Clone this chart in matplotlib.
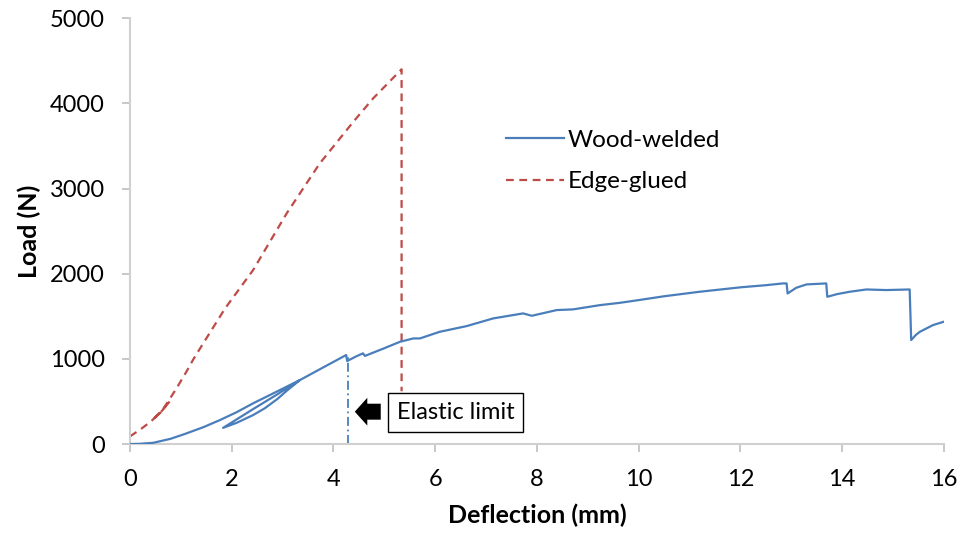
import matplotlib
matplotlib.use('Agg')
import matplotlib.pyplot as plt

plt.rcParams['font.family'] = ['Lato', 'DejaVu Sans']

# load-deflection curves
wood_x = [0, 0.2, 0.46, 0.8, 1.11, 1.45, 1.77, 2.1, 2.42, 2.9, 3.34,
          3.1, 2.9, 2.65, 2.42, 2.1, 1.83, 2.42, 2.9, 3.34,
          3.8, 4.25, 4.27, 4.45, 4.58, 4.62, 5.0, 5.31, 5.57, 5.70, 6.09, 6.62, 7.14,
          7.73, 7.90, 8.39, 8.71, 9.24, 9.63, 10.0, 10.5, 11.2, 12.0, 12.5, 12.84, 12.91,
          12.93, 13.1, 13.3, 13.69, 13.71, 13.9, 14.15, 14.48, 14.87, 15.33, 15.36,
          15.45, 15.53, 15.79, 16.0]
wood_y = [0, 3, 15, 62, 125, 200, 282, 375, 478, 620, 751,
          635, 530, 420, 340, 250, 190, 410, 585, 751,
          900, 1045, 975, 1030, 1065, 1035, 1125, 1201, 1240, 1240, 1318, 1385, 1475,
          1534, 1506, 1573, 1581, 1631, 1658, 1690, 1735, 1788, 1840, 1865, 1886, 1886,
          1768, 1835, 1874, 1886, 1729, 1760, 1788, 1815, 1808, 1815, 1221,
          1280, 1318, 1397, 1436]

glued_x = [0, 0.2, 0.4, 0.6, 0.78, 0.6, 0.45, 0.65, 0.9, 1.1, 1.25, 1.5, 1.87,
           2.42, 3.08, 3.73, 4.39, 4.78, 5.31, 5.34, 5.34]
glued_y = [90, 170, 260, 370, 500, 370, 285, 410, 640, 840, 1000, 1240, 1593,
           2042, 2708, 3294, 3783, 4058, 4382, 4400, 620]

elastic_x = 4.28
elastic_top = 1040

blue = '#4a7ebb'
red = '#be4b48'

fig = plt.figure(figsize=(9.63, 5.35), dpi=100)
ax = fig.add_axes([0.135, 0.170, 0.845, 0.796])

ax.plot(wood_x, wood_y, color=blue, lw=1.6, label='Wood-welded', zorder=3)
ax.plot(glued_x, glued_y, color=red, lw=1.6, ls=(0, (3.5, 2.5)), label='Edge-glued', zorder=2)
ax.plot([elastic_x, elastic_x], [0, elastic_top], color=blue, lw=1.3,
        ls=(0, (5, 2, 1, 2)), zorder=2)

ax.annotate('', xy=(4.42, 380), xytext=(4.93, 380),
            arrowprops=dict(arrowstyle='simple,head_length=0.9,head_width=2.0,tail_width=1.15',
                            color='black', lw=0, shrinkA=0, shrinkB=0), zorder=5)
ax.text(6.4, 372, 'Elastic limit', fontsize=17, ha='center', va='center', zorder=6,
        bbox=dict(boxstyle='square,pad=0.38', fc='white', ec='black', lw=1.0))

ax.set_xlim(0, 16)
ax.set_ylim(0, 5000)
ax.set_xticks(range(0, 17, 2))
ax.set_yticks(range(0, 5001, 1000))
ax.tick_params(labelsize=17, colors='#bfbfbf', labelcolor='black', length=6, width=1.2)
ax.tick_params(axis='x', pad=12)
ax.tick_params(axis='y', pad=12)
for s in ['top', 'right']:
    ax.spines[s].set_visible(False)
for s in ['left', 'bottom']:
    ax.spines[s].set_color('#d0d0d0')
    ax.spines[s].set_linewidth(1.5)

ax.set_xlabel('Deflection (mm)', fontsize=18, fontweight='bold', labelpad=10)
ax.set_ylabel('Load (N)', fontsize=18, fontweight='bold', labelpad=6)

ax.legend(loc='upper left', bbox_to_anchor=(0.435, 0.79), frameon=False, fontsize=17.5,
          handlelength=2.4, handletextpad=0.15, labelspacing=0.85)

fig.savefig('out.png', dpi=100)
